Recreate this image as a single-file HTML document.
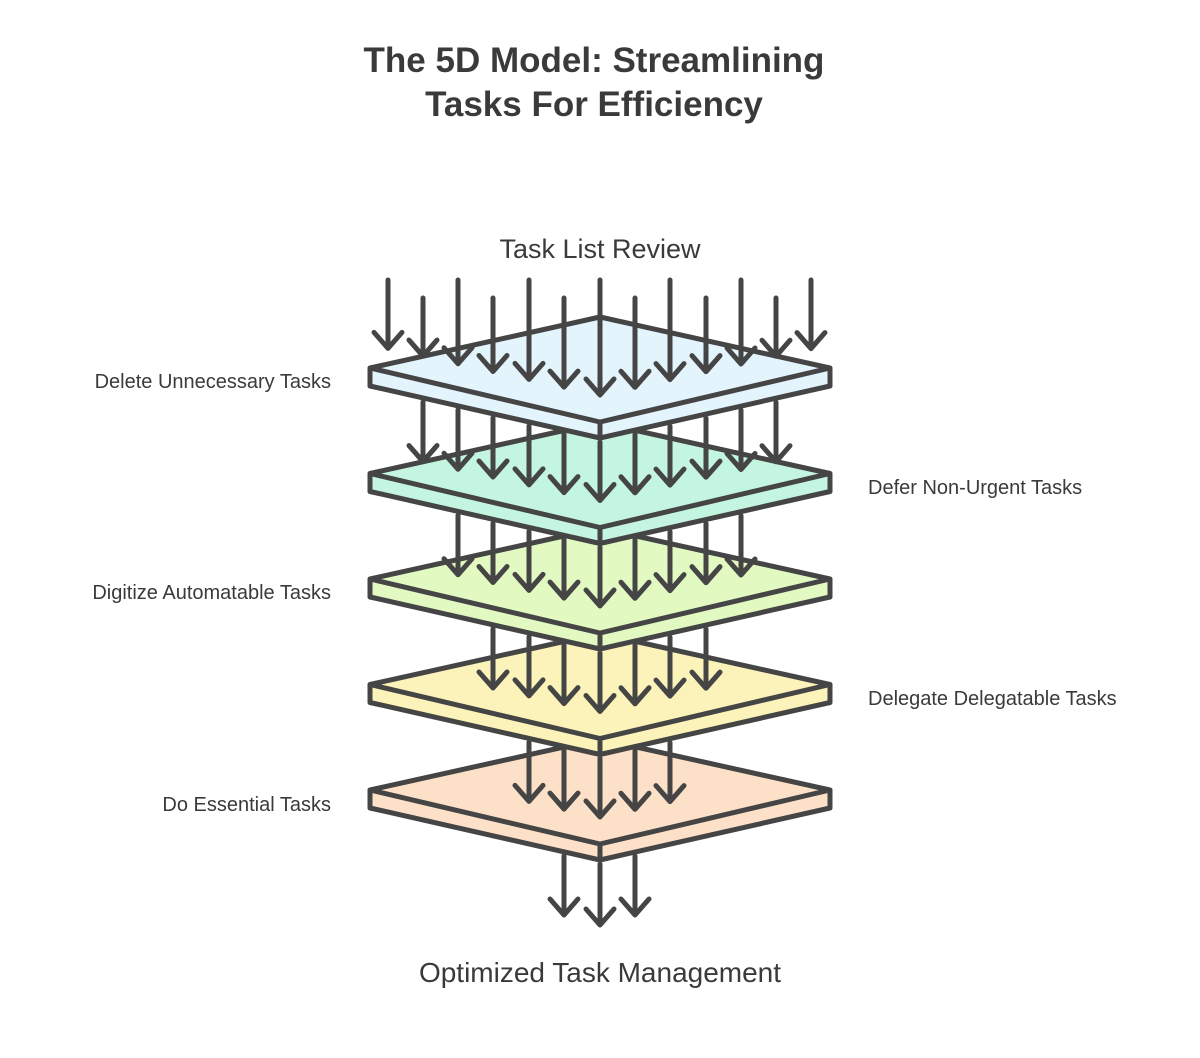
<!DOCTYPE html>
<html><head><meta charset="utf-8"><style>
body{margin:0;background:#fff;}
svg{display:block;}
text{font-family:"Liberation Sans",sans-serif;fill:#3a3a3a;}
</style></head><body>
<svg width="1200" height="1058" viewBox="0 0 1200 1058" xmlns="http://www.w3.org/2000/svg">
<text x="594" y="72" text-anchor="middle" font-size="35" font-weight="bold">The 5D Model: Streamlining</text>
<text x="594" y="116" text-anchor="middle" font-size="35" font-weight="bold">Tasks For Efficiency</text>
<text x="600" y="258" text-anchor="middle" font-size="27">Task List Review</text>
<text x="600" y="982" text-anchor="middle" font-size="28">Optimized Task Management</text>
<g font-size="20">
<text x="331" y="388" text-anchor="end">Delete Unnecessary Tasks</text>
<text x="868" y="494">Defer Non-Urgent Tasks</text>
<text x="331" y="599" text-anchor="end">Digitize Automatable Tasks</text>
<text x="868" y="705">Delegate Delegatable Tasks</text>
<text x="331" y="811" text-anchor="end">Do Essential Tasks</text>
</g>
<g id="layers" stroke="#454545" stroke-width="5" stroke-linejoin="round"></g>
<g id="arrows" stroke="#454545" stroke-width="5" stroke-linecap="round" stroke-linejoin="round" fill="none"></g>
</svg>
<script>
var NS="http://www.w3.org/2000/svg";
var L=document.getElementById("layers"),A=document.getElementById("arrows");
var cols=["#e3f4fd","#c4f5e0","#e3f9c2","#fbf3b9","#fde0c8"];
var D=105.5;
for(var i=4;i>=0;i--){
 var o=i*D;
 var p=document.createElementNS(NS,"path");
 p.setAttribute("fill",cols[i]);
 p.setAttribute("d","M370,"+(368+o)+" L600,"+(317+o)+" L830,"+(368+o)+" L830,"+(386+o)+" L600,"+(438+o)+" L370,"+(386+o)+" Z");
 L.appendChild(p);
 var q=document.createElementNS(NS,"path");
 q.setAttribute("fill","none");
 q.setAttribute("d","M370,"+(368+o)+" L600,"+(422+o)+" L830,"+(368+o)+" M600,"+(422+o)+" L600,"+(438+o));
 L.appendChild(q);
}
function arrow(x,y1,y2){
 var p=document.createElementNS(NS,"path");
 p.setAttribute("d","M"+x+","+y1+" L"+x+","+y2+" M"+(x-14)+","+(y2-16)+" L"+x+","+y2+" L"+(x+14)+","+(y2-16));
 A.appendChild(p);
}
var xs=[388,423,458,493,529,564,600,635,670,706,741,776,811];
function tip(x,k){return 395-Math.abs(x-600)*0.22+k*D;}
function bot(x,k){return 438-Math.abs(x-600)*0.226+k*D+4;}
xs.forEach(function(x,j){arrow(x,j%2?298:280,tip(x,0));});
for(var k=1;k<5;k++){
 xs.forEach(function(x){ if(Math.abs(x-600)<=177-(k-1)*35.3+3) arrow(x,bot(x,k-1),tip(x,k)); });
}
[564,600,635].forEach(function(x){arrow(x,bot(x,4),x==600?925:915);});
</script>
</body></html>
